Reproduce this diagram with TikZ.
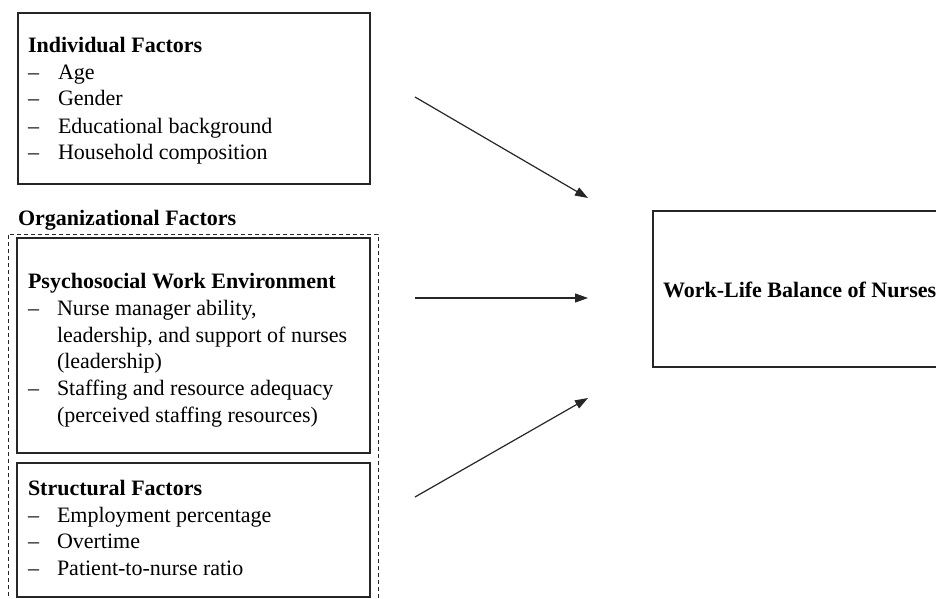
\documentclass[tikz,border=0pt]{standalone}
\usepackage{fontspec}
\setmainfont{Liberation Serif}
\usetikzlibrary{arrows.meta}
\begin{document}
\begin{tikzpicture}[x=1pt,y=-1pt,
  every node/.style={inner sep=0pt,outer sep=0pt},
  box/.style={draw=black!85,line width=1.2pt,rectangle,anchor=north west},
  txt/.style={anchor=base west,font=\fontsize{22}{26.6}\selectfont},
  dashbox/.style={draw=black!85,line width=1pt,dash pattern=on 4pt off 3pt},
  arr/.style={draw=black!85,line width=1.2pt,-{Triangle[length=13pt,width=9pt]}}]
\useasboundingbox (0,0) rectangle (936,599);
% Individual factors
\node[box,minimum width=352pt,minimum height=171pt] (ind) at (18,13) {};
\node[txt] (ind0) at (28,53) {\textbf{Individual Factors}};
\node[txt] (ind1d) at (28,80) {–};  \node[txt] (ind1) at (58,80) {Age};
\node[txt] (ind2d) at (28,106) {–}; \node[txt] (ind2) at (58,106) {Gender};
\node[txt] (ind3d) at (28,133) {–}; \node[txt] (ind3) at (58,133) {Educational background};
\node[txt] (ind4d) at (28,159) {–}; \node[txt] (ind4) at (58,159) {Household composition};
% Organizational label and dashed box
\node[txt] (orgl) at (18,225) {\textbf{Organizational Factors}};
\node[dashbox,rectangle,anchor=north west,minimum width=370pt,minimum height=372pt] (org) at (8,234) {};
% Psychosocial
\node[box,minimum width=353pt,minimum height=215pt] (psy) at (17,238) {};
\node[txt] (psy0) at (28,288) {\textbf{Psychosocial Work Environment}};
\node[txt] (psy1d) at (28,315) {–}; \node[txt] (psy1) at (57,315) {Nurse manager ability,};
\node[txt] (psy2) at (57,342) {leadership, and support of nurses};
\node[txt] (psy3) at (57,368) {(leadership)};
\node[txt] (psy4d) at (28,395) {–}; \node[txt] (psy4) at (57,395) {Staffing and resource adequacy};
\node[txt] (psy5) at (57,422) {(perceived staffing resources)};
% Structural
\node[box,minimum width=353pt,minimum height=134pt] (str) at (17,463) {};
\node[txt] (str0) at (28,495) {\textbf{Structural Factors}};
\node[txt] (str1d) at (28,522) {–}; \node[txt] (str1) at (57,522) {Employment percentage};
\node[txt] (str2d) at (28,548) {–}; \node[txt] (str2) at (57,548) {Overtime};
\node[txt] (str3d) at (28,575) {–}; \node[txt] (str3) at (57,575) {Patient-to-nurse ratio};
% Outcome
\node[box,minimum width=320pt,minimum height=156pt] (wlb) at (653,211) {};
\node[txt] (wlbt) at (663,297) {\textbf{Work-Life Balance of Nurses}};
% Arrows
\coordinate (s1) at (415,97);  \coordinate (e1) at (588,198);
\coordinate (s2) at (415,298); \coordinate (e2) at (588,298);
\coordinate (s3) at (415,497); \coordinate (e3) at (588,398);
\draw[arr] (s1) -- (e1);
\draw[arr] (s2) -- (e2);
\draw[arr] (s3) -- (e3);
\end{tikzpicture}
\end{document}
